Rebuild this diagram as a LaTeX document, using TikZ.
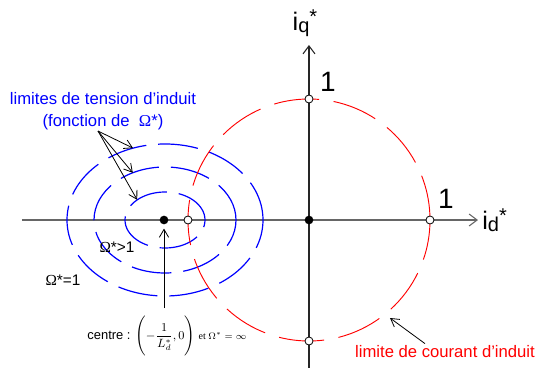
\documentclass[tikz,border=0pt]{standalone}
\usepackage{fontspec}
\setmainfont{Liberation Sans}
\newfontfamily\serifom{Liberation Serif}
\usetikzlibrary{arrows.meta, positioning, calc}

\newcommand{\Om}{{\serifom Ω}}
\newcommand{\axname}[1]{i\raisebox{-1.5pt}{\fontsize{15}{15}\selectfont #1}\raisebox{5.5pt}{\fontsize{15}{15}\selectfont *}}

\begin{document}
\begin{tikzpicture}[
    x=0.75pt, y=0.75pt,
    axis/.style={
        draw=black!60,
        line width=1.1pt,
        -{Straight Barb[length=6pt,width=9pt,line width=0.8pt]}
    },
    qaxis/.style={
        axis,
        draw=black!85,
        line width=0.8pt
    },
    voltlimit/.style={
        draw=blue,
        line width=0.9pt,
        dash pattern=on 30pt off 9pt
    },
    curlimit/.style={
        draw=red,
        line width=0.7pt,
        dash pattern=on 34pt off 11pt
    },
    pointer/.style={
        draw=black,
        line width=0.6pt,
        -{Straight Barb[length=6pt,width=7pt]}
    },
    dot/.style={
        circle,
        fill=black,
        inner sep=0pt,
        minimum size=6.5pt
    },
    hollow/.style={
        circle,
        draw=black,
        fill=white,
        line width=0.6pt,
        inner sep=0pt,
        minimum size=6pt
    },
    num/.style={
        font=\fontsize{21}{21}\selectfont,
        inner sep=0pt
    },
    axlabel/.style={
        font=\fontsize{19}{19}\selectfont,
        inner sep=0pt
    }
]

\useasboundingbox (-309,-148) rectangle (227,220);

% --- AXES -----------------------------------------------------

\coordinate (xs) at (-287,0);
\coordinate (xe) at (169,0);
\coordinate (ys) at (0,-148);
\coordinate (ye) at (0,175);

\draw[axis] (xs) -- (xe);
\draw[qaxis] (ys) -- (ye);

\node[axlabel, right=3pt of xe] (id) {\axname{d}};
\node[axlabel, above=6pt of ye, xshift=-3pt] (iq) {\axname{q}};

% --- VOLTAGE LIMITS (ELLIPSES) ---------------------------------

\coordinate (Cc) at (-144,0);
\draw[voltlimit] (Cc) ellipse [x radius=40, y radius=28];
\draw[voltlimit] (Cc) ellipse [x radius=71, y radius=53];
\draw[voltlimit] (Cc) ellipse [x radius=98, y radius=76];

% --- CURRENT LIMIT (CIRCLE) ------------------------------------

\draw[curlimit] (0,0) circle [radius=121];

% --- POINTS ---------------------------------------------------

\node[dot] (O) at (0,0) {};
\node[dot] (C) at (-145,0) {};
\node[hollow] (Pd) at (121,0) {};
\node[hollow] (Pq) at (0,121) {};
\node[hollow] (Pb) at (0,-121) {};
\node[hollow] (Pl) at (-121,0) {};

\node[num] (oneq) at ($(Pq)+(19,17)$) {1};
\node[num] (oned) at ($(Pd)+(16,21)$) {1};

% --- LABELS ---------------------------------------------------

\node[text=blue, font=\fontsize{12.5}{16.5}\selectfont, align=center, inner sep=0pt]
    (tens) at (-206,109) {limites de tension d'induit\\(fonction de~~\Om*)};

\node[font=\fontsize{11.5}{11.5}\selectfont, inner sep=0pt] (gt) at (-192,-27) {\Om*>1};
\node[font=\fontsize{11.5}{11.5}\selectfont, inner sep=0pt] (eq) at (-246,-60) {\Om*=1};

\node[font=\fontsize{9.7}{10}\selectfont, inner sep=0pt] (centre) at (-142,-116)
    {centre : {\fontsize{9}{11}\selectfont$\displaystyle\Biggl(-\frac{1}{L^{*}_{d}},0\Biggr)$}
    {\serifom\fontsize{7.5}{9}\selectfont et $\Omega^{*}=\infty$}};

\node[text=red, font=\fontsize{12.5}{14}\selectfont, inner sep=0pt] (lim) at (136,-132)
    {limite de courant d'induit};

% --- POINTERS -------------------------------------------------

\coordinate (fan) at ($(tens.south)+(-5,-1)$);
\coordinate (e1) at ($(Cc)+(109:98 and 76)$);
\coordinate (e2) at ($(Cc)+(117:71 and 53)$);
\coordinate (e3) at ($(Cc)+(134:40 and 28)$);
\draw[pointer] (fan) -- (e1);
\draw[pointer] (fan) -- (e2);
\draw[pointer] (fan) -- (e3);

\coordinate (cfoot) at ($(C)+(0,-88)$);
\draw[pointer, shorten >=3pt] (cfoot) -- (C);

\coordinate (rc) at (81,-98);
\draw[pointer] ($(lim.north)+(-20,2)$) -- (rc);

\end{tikzpicture}
\end{document}
